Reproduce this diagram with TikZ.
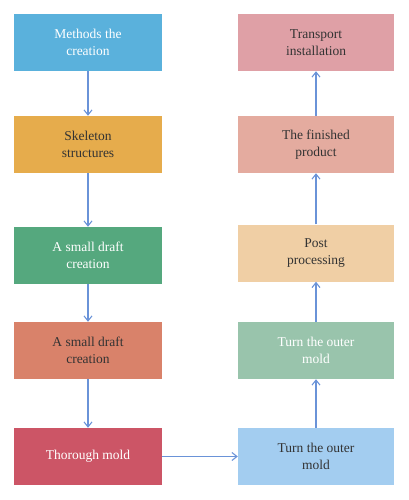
\documentclass[tikz,border=0pt]{standalone}
\usepackage{fontspec}
\setmainfont{Liberation Serif}
\usetikzlibrary{arrows.meta,positioning}
\definecolor{cMeth}{HTML}{5AB1DC}
\definecolor{cSkel}{HTML}{E6AC4C}
\definecolor{cDraftG}{HTML}{55A87E}
\definecolor{cDraftO}{HTML}{D9826A}
\definecolor{cThor}{HTML}{CC5566}
\definecolor{cTurnB}{HTML}{A3CDF0}
\definecolor{cTurnG}{HTML}{99C4AC}
\definecolor{cPost}{HTML}{F0CFA5}
\definecolor{cFin}{HTML}{E4AB9F}
\definecolor{cTrans}{HTML}{DFA0A6}
\definecolor{cArrow}{HTML}{6A93D8}
\definecolor{cDark}{HTML}{333333}
\tikzset{
  leftbox/.style={rectangle, minimum width=148pt, minimum height=57pt, inner sep=0pt, align=center, font=\fontsize{13.5}{16.5}\selectfont},
  rightbox/.style={leftbox, minimum width=156pt},
  flow/.style={draw=cArrow, line width=1.1pt, -{Straight Barb[length=5pt,width=8pt,line width=1.1pt]}}
}
\begin{document}
\begin{tikzpicture}[x=1pt,y=-1pt]
\useasboundingbox (0,0) rectangle (409,500);
% left column
\node[leftbox, fill=cMeth, text=white] (m) at (88,42.5) {Methods the\\creation};
\node[leftbox, fill=cSkel, text=cDark] (s) at (88,144.5) {Skeleton\\structures};
\node[leftbox, fill=cDraftG, text=white] (dg) at (88,255.5) {A small draft\\creation};
\node[leftbox, fill=cDraftO, text=cDark] (do) at (88,350.5) {A small draft\\creation};
\node[leftbox, fill=cThor, text=white] (t) at (88,456.5) {Thorough mold};
% right column
\node[rightbox, fill=cTurnB, text=cDark] (tb) at (316,456.5) {Turn the outer\\mold};
\node[rightbox, fill=cTurnG, text=white] (tg) at (316,350.5) {Turn the outer\\mold};
\node[rightbox, fill=cPost, text=cDark] (p) at (316,253) {Post\\processing};
\node[rightbox, fill=cFin, text=cDark] (f) at (316,144.5) {The finished\\product};
\node[rightbox, fill=cTrans, text=cDark] (tr) at (316,42.5) {Transport\\installation};
% connectors
\draw[flow] (m) -- (s);
\draw[flow] (s) -- (dg);
\draw[flow] (dg) -- (do);
\draw[flow] (do) -- (t);
\draw[flow] (t) -- (tb);
\draw[flow] (tb) -- (tg);
\draw[flow] (tg) -- (p);
\draw[flow] (p) -- (f);
\draw[flow] (f) -- (tr);
\end{tikzpicture}
\end{document}
